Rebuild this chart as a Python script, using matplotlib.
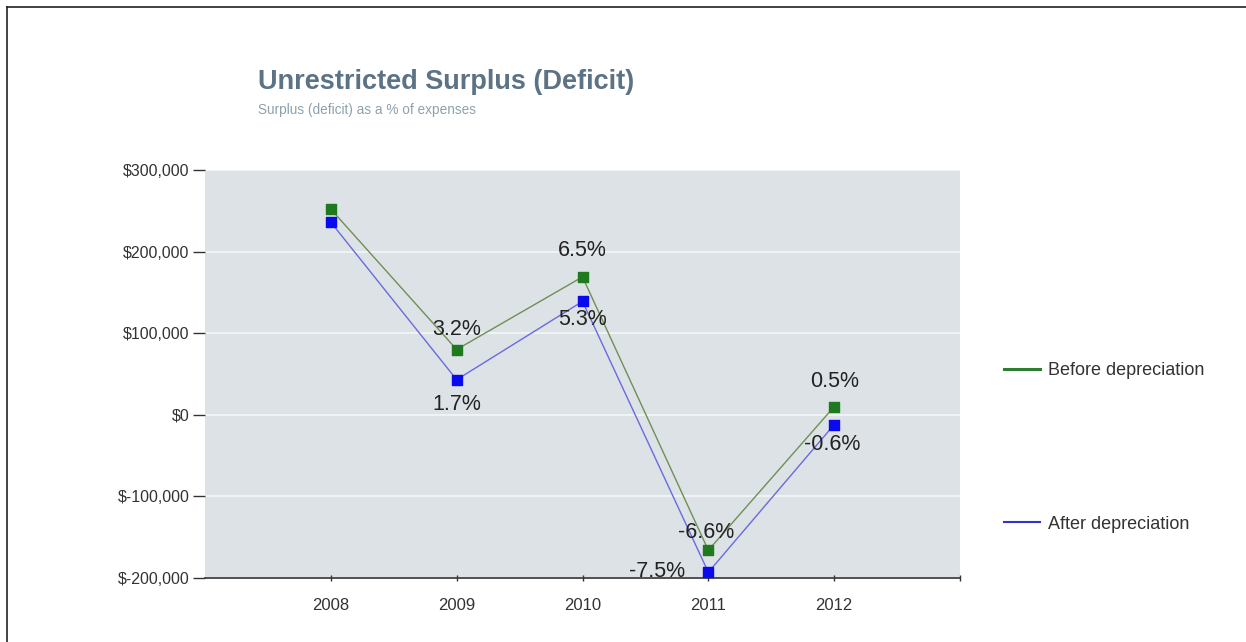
import matplotlib.pyplot as plt
from matplotlib.lines import Line2D

plt.rcParams['font.family'] = ['Liberation Sans', 'DejaVu Sans']

years = [2008, 2009, 2010, 2011, 2012]
before_dep = [252000, 80000, 169000, -166000, 10000]
after_dep = [236000, 43000, 139000, -193000, -12000]
before_pct = [None, "3.2%", "6.5%", "-6.6%", "0.5%"]
after_pct = [None, "1.7%", "5.3%", "-7.5%", "-0.6%"]
yticks = [-200000, -100000, 0, 100000, 200000, 300000]
ytick_labels = ["$-200,000", "$-100,000", "$0", "$100,000", "$200,000", "$300,000"]

fig = plt.figure(figsize=(12.46, 6.42), dpi=100)
ax = fig.add_axes([205 / 1246, 1 - 578 / 642, 755 / 1246, 408 / 642])
ax.set_facecolor("#dde2e6")

# frame lines at left and top of the page
fig.add_artist(Line2D([7 / 1246, 7 / 1246], [0, 1 - 7 / 642], color="#222222", lw=1.2))
fig.add_artist(Line2D([7 / 1246, 1], [1 - 7 / 642, 1 - 7 / 642], color="#222222", lw=1.2))

ax.plot(years, before_dep, color="#6f8f55", lw=1, zorder=3)
ax.plot(years, after_dep, color="#6a6adf", lw=1, zorder=3)
ax.scatter(years, before_dep, marker="s", s=60, color="#1f7a1f", zorder=4)
ax.scatter(years, after_dep, marker="s", s=60, color="#0a0aee", zorder=4)

# label offsets in pixels -> points
px = 72 / 100
before_off = [None, (0, 20), (0, 26), (-2, 18), (0, 25)]
after_off = [None, (0, -25), (0, -18), (-51, 1), (-2, -20)]
for x, y, t, o in zip(years, before_dep, before_pct, before_off):
    if t:
        ax.annotate(t, (x, y), xytext=(o[0] * px, o[1] * px), textcoords="offset points",
                    ha="center", va="center", fontsize=15.5, color="#222222", zorder=5)
for x, y, t, o in zip(years, after_dep, after_pct, after_off):
    if t:
        ax.annotate(t, (x, y), xytext=(o[0] * px, o[1] * px), textcoords="offset points",
                    ha="center", va="center", fontsize=15.5, color="#222222", zorder=5)

ax.set_xlim(2007, 2013)
ax.set_ylim(-200000, 300000)
ax.set_xticks(years + [2013])
ax.set_xticklabels([str(y) for y in years] + [""])
ax.set_yticks(yticks)
ax.set_yticklabels(ytick_labels)
ax.grid(axis="y", color="white", lw=1.2, alpha=0.7)
ax.set_axisbelow(True)
for s in ["top", "right", "left"]:
    ax.spines[s].set_visible(False)
ax.spines["bottom"].set_color("#333333")
ax.spines["bottom"].set_linewidth(1.2)
ax.tick_params(axis="y", length=9, width=1, color="#333333", labelsize=11.5, labelcolor="#333333", pad=2)
ax.tick_params(axis="x", length=5, width=1, direction="inout", color="#333333", labelsize=12,
               labelcolor="#333333", pad=12)

fig.text(258 / 1246, 1 - 82 / 642, "Unrestricted Surplus (Deficit)", fontsize=19.5, fontweight="bold",
         color="#5b7385", va="center", ha="left")
fig.text(258 / 1246, 1 - 110 / 642, "Surplus (deficit) as a % of expenses", fontsize=9.8,
         color="#8da2ad", va="center", ha="left")

handles = [Line2D([], [], color="#2e7d32", lw=2.2), Line2D([], [], color="#3333cc", lw=1.5)]
fig.legend(handles, ["Before depreciation", "After depreciation"], loc="upper left",
           bbox_to_anchor=(988 / 1246, 1 - 346 / 642), frameon=False, fontsize=13,
           labelspacing=7.55, handlelength=2.0, handletextpad=0.45, labelcolor="#333333")

fig.savefig("out.png", dpi=100, facecolor="white")
